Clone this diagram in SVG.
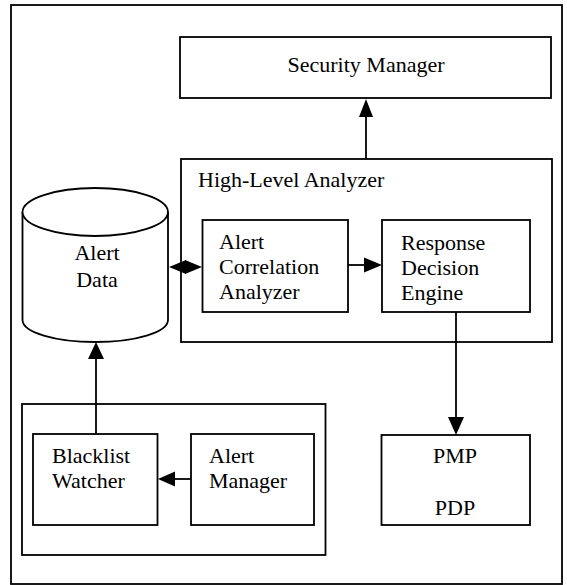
<svg xmlns="http://www.w3.org/2000/svg" width="567" height="585" viewBox="0 0 567 585">
<style>
.box{fill:#fff;stroke:#000;stroke-width:1.8}
.frame{fill:none;stroke:#000;stroke-width:1.8}
.t{font-family:"Liberation Serif","Times New Roman",serif;font-size:22px;fill:#000}
.c{text-anchor:middle}
.ln{stroke:#000;stroke-width:1.8;fill:none}
.hd{fill:#000;stroke:none}
</style>
<rect class="frame" x="11" y="5" width="551" height="579"/>
<g id="security-manager">
<rect class="box" x="180" y="37" width="371" height="61"/>
<text class="t c" x="366" y="72">Security Manager</text>
</g>
<g id="high-level-analyzer">
<rect class="box" x="181" y="159" width="371" height="183"/>
<text class="t" x="198" y="187">High-Level Analyzer</text>
</g>
<g id="alert-correlation-analyzer">
<rect class="box" x="202.5" y="220" width="145.5" height="92"/>
<text class="t" x="219" y="249">Alert</text>
<text class="t" x="219" y="274">Correlation</text>
<text class="t" x="219" y="299">Analyzer</text>
</g>
<g id="response-decision-engine">
<rect class="box" x="382" y="220" width="148" height="92"/>
<text class="t" x="401" y="250">Response</text>
<text class="t" x="401" y="275">Decision</text>
<text class="t" x="401" y="300">Engine</text>
</g>
<g id="alert-data">
<path class="box" d="M22.5,212 L22.5,320 A72.75,22 0 0 0 168,320 L168,212"/>
<ellipse class="box" cx="95.25" cy="212" rx="72.75" ry="24"/>
<text class="t c" x="97" y="260">Alert</text>
<text class="t c" x="97" y="287">Data</text>
</g>
<g id="watcher-group">
<rect class="box" x="22" y="404" width="303.5" height="151"/>
</g>
<g id="blacklist-watcher">
<rect class="box" x="33" y="434" width="124.5" height="91"/>
<text class="t" x="52" y="463">Blacklist</text>
<text class="t" x="52" y="488">Watcher</text>
</g>
<g id="alert-manager">
<rect class="box" x="191" y="434" width="123" height="91"/>
<text class="t" x="209" y="463">Alert</text>
<text class="t" x="209" y="488">Manager</text>
</g>
<g id="pmp-pdp">
<rect class="box" x="381.5" y="435" width="148.5" height="90"/>
<text class="t c" x="455" y="463">PMP</text>
<text class="t c" x="455" y="515">PDP</text>
</g>
<g id="connectors">
<line class="ln" x1="366" y1="159" x2="366" y2="112"/>
<polygon class="hd" points="366,99 373,117 359,117"/>
<line class="ln" x1="180" y1="267" x2="192" y2="267"/>
<polygon class="hd" points="169,267 186,260 186,274"/>
<polygon class="hd" points="202,267 185,260 185,274"/>
<line class="ln" x1="348" y1="265" x2="370" y2="265"/>
<polygon class="hd" points="382,265 364,257.5 364,272.5"/>
<line class="ln" x1="456" y1="312" x2="456" y2="422"/>
<polygon class="hd" points="456,435 448,417 464,417"/>
<line class="ln" x1="96" y1="434" x2="96" y2="352"/>
<polygon class="hd" points="96,342 88,359 104,359"/>
<line class="ln" x1="191" y1="479" x2="170" y2="479"/>
<polygon class="hd" points="158,479 175,471.5 175,486.5"/>
</g>
</svg>
